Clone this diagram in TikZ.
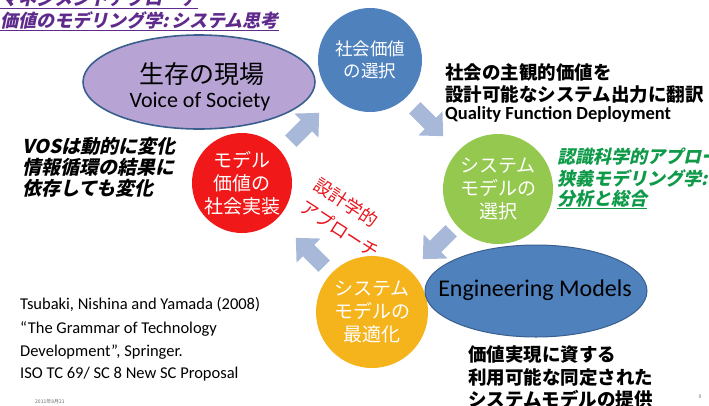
\documentclass[tikz,border=0pt]{standalone}
\usepackage{fontspec}
\setmainfont{Carlito}
\newfontfamily\jp{Noto Sans CJK JP}
\newfontfamily\jpsl[FakeSlant=0.22]{Noto Sans CJK JP}
\usetikzlibrary{shapes.geometric}
\definecolor{vospurple}{HTML}{B8A3D5}
\definecolor{edgeblue}{HTML}{3A5F8E}
\definecolor{cblue}{HTML}{4F81BD}
\definecolor{cred}{HTML}{F01818}
\definecolor{cgreen}{HTML}{94C84E}
\definecolor{corange}{HTML}{F5B31C}
\definecolor{arrowc}{HTML}{A7B8D8}
\definecolor{titlepurple}{HTML}{5E2A8C}
\definecolor{tgreen}{HTML}{0E9A48}
\definecolor{tred}{HTML}{E8141B}
\begin{document}
\begin{tikzpicture}[x=1pt,y=-1pt,
  blkarrow/.style={fill=arrowc, draw=none},
  ctext/.style={text=white, align=center, font=\jp\fontsize{19}{23}\selectfont},
  jpb/.style={font=\jp\bfseries\fontsize{18.5}{22}\selectfont, anchor=base west, inner sep=0},
  jpi/.style={font=\jpsl\bfseries\fontsize{18}{21}\selectfont, anchor=base west, inner sep=0},
  refl/.style={font=\fontsize{16.5}{20}\selectfont, anchor=base west, inner sep=0},
  tiny/.style={font=\jp\fontsize{5}{6}\selectfont, text=black!60, inner sep=0}]
\useasboundingbox (0,0) rectangle (709,405);
% circles and ellipses
\node[circle, fill=cblue, minimum size=104, inner sep=0, ctext, font=\jp\fontsize{17.5}{22}\selectfont] (social) at (370,60) {社会価値\\の選択};
\node[ellipse, fill=vospurple, draw=edgeblue, line width=1.6pt, minimum width=232, minimum height=94, inner sep=0] (vos) at (199,82) {};
\node[font=\jp\fontsize{25}{28}\selectfont, inner sep=0] (vosjp) at (202,74) {生存の現場};
\node[font=\fontsize{22}{26}\selectfont, inner sep=0] (vosen) at (200,102) {Voice of Society};
\node[circle, fill=cred, minimum size=100, inner sep=0, ctext] (impl) at (242,183) {モデル\\価値の\\社会実装};
\node[circle, fill=cgreen, minimum size=110, inner sep=0, ctext] (select) at (498,189) {システム\\モデルの\\選択};
\node[circle, fill=corange, minimum size=112, inner sep=0, ctext] (optim) at (372,312) {システム\\モデルの\\最適化};
\node[ellipse, fill=cblue, draw=edgeblue, line width=1pt, minimum width=222, minimum height=92, inner sep=0] (em) at (536,291) {};
\node[font=\fontsize{24}{28}\selectfont, inner sep=0] (emtext) at (535,290) {Engineering Models};
% block arrows (drawn as shapes)
\foreach \px/\py/\ang in {305/127/45, 429/122/-45, 437/245/-135, 310/252/135}{
  \begin{scope}[shift={(\px,\py)}, rotate=\ang]
    \fill[blkarrow] (-20,-8) -- (2,-8) -- (2,-17) -- (20,0) -- (2,17) -- (2,8) -- (-20,8) -- cycle;
  \end{scope}
}
% red rotated text
\node[text=tred, font=\jp\fontsize{18}{26}\selectfont, align=left, rotate=-33, inner sep=0] (approach) at (347,218) {設計学的\\アプローチ};
% top-left title
\node[jpi, text=titlepurple] (t1) at (0,5) {\underline{マネジメントアプローチ}};
\node[jpi, text=titlepurple] (t2) at (0,27) {\underline{価値のモデリング学:\,システム思考}};
% QFD text
\node[jpb] (q1) at (445,79) {社会の主観的価値を};
\node[jpb] (q2) at (445,101) {設計可能なシステム出力に翻訳};
\node[font=\bfseries\fontsize{18.5}{21}\selectfont, anchor=base west, inner sep=0] (q3) at (445,119) {Quality Function Deployment};
% green text
\node[jpi, text=tgreen] (g1) at (557,163) {認識科学的アプローチ};
\node[jpi, text=tgreen] (g2) at (557,185) {狭義モデリング学:};
\node[jpi, text=tgreen] (g3) at (557,205) {\underline{分析と総合}};
% left text
\node[jpi, font=\jpsl\bfseries\fontsize{19}{22}\selectfont] (v1) at (22,153) {VOSは動的に変化};
\node[jpi, font=\jpsl\bfseries\fontsize{19}{22}\selectfont] (v2) at (22,174) {情報循環の結果に};
\node[jpi, font=\jpsl\bfseries\fontsize{19}{22}\selectfont] (v3) at (22,195) {依存しても変化};
% references
\node[refl] (r1) at (20,309) {Tsubaki, Nishina and Yamada (2008)};
\node[refl] (r2) at (20,333) {“The Grammar of Technology};
\node[refl] (r3) at (20,356) {Development”, Springer.};
\node[refl] (r4) at (20,378) {ISO TC 69/ SC 8 New SC Proposal};
% bottom right text
\node[jpb] (b1) at (468,361) {価値実現に資する};
\node[jpb] (b2) at (468,384) {利用可能な同定された};
\node[jpb] (b3) at (468,406) {システムモデルの提供};
% footer
\node[tiny, anchor=base west] (date) at (35,403) {2011年8月21};
\node[tiny, anchor=base] (page) at (700,398) {9};
\end{tikzpicture}
\end{document}
